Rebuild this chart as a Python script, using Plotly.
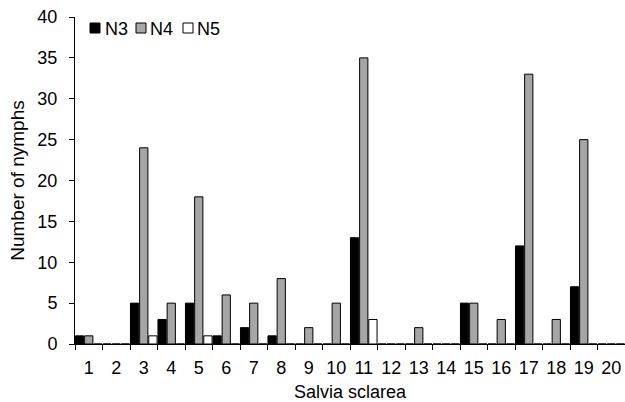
import plotly.graph_objects as go

categories = [str(i) for i in range(1, 21)]
n3 = [1, 0, 5, 3, 5, 1, 2, 1, 0, 0, 13, 0, 0, 0, 5, 0, 12, 0, 7, 0]
n4 = [1, 0, 24, 5, 18, 6, 5, 8, 2, 5, 35, 0, 2, 0, 5, 3, 33, 3, 25, 0]
n5 = [0, 0, 1, 0, 1, 0, 0, 0, 0, 0, 3, 0, 0, 0, 0, 0, 0, 0, 0, 0]
series_names = ["N3", "N4", "N5"]
series_colors = ["#000000", "#a6a6a6", "#ffffff"]
y_ticks = [0, 5, 10, 15, 20, 25, 30, 35, 40]

FONT = "Liberation Sans, Arial, sans-serif"

W, H = 625, 402
ML, MR, MT, MB = 75, 0, 17, 58
PW, PH = W - ML - MR, H - MT - MB


def px_x(p):
    return (p - ML) / PW


def px_y(p):
    return (H - MB - p) / PH


fig = go.Figure()
for name, vals, col in zip(series_names, [n3, n4, n5], series_colors):
    fig.add_trace(go.Bar(
        x=categories, y=vals, name=name,
        marker=dict(color=col, line=dict(color="#000000", width=1)),
        showlegend=False,
    ))

# legend (drawn manually to match the compact swatch layout)
sw_left = [90, 136, 183]
txt_left = [104, 149, 196]
for i, (name, col) in enumerate(zip(series_names, series_colors)):
    fig.add_shape(type="rect", xref="paper", yref="paper",
                  x0=px_x(sw_left[i]), x1=px_x(sw_left[i] + 10),
                  y0=px_y(33), y1=px_y(23),
                  fillcolor=col, line=dict(color="#000000", width=1))
    fig.add_annotation(text=name, xref="paper", yref="paper",
                       x=px_x(txt_left[i]), y=px_y(28.5),
                       xanchor="left", yanchor="middle", showarrow=False,
                       font=dict(size=18, family=FONT, color="#000000"),
                       borderpad=0)

fig.update_layout(
    width=W, height=H,
    margin=dict(l=ML, r=MR, t=MT, b=MB, autoexpand=False),
    paper_bgcolor="white", plot_bgcolor="white",
    barmode="group", bargap=0.0, bargroupgap=0.1,
    font=dict(family=FONT, size=18, color="#000000"),
    xaxis=dict(
        type="category", tickson="boundaries", range=[-0.5, 19.5],
        ticks="outside", ticklen=5, tickwidth=1, tickcolor="#000000",
        showline=True, linecolor="#000000", linewidth=1,
        showgrid=False, zeroline=False, tickangle=0,
        tickfont=dict(size=18), automargin=False, ticklabelstandoff=7,
        title=dict(text="Salvia sclarea", font=dict(size=18), standoff=9),
    ),
    yaxis=dict(
        range=[0, 40], tickvals=y_ticks, ticktext=[str(v) for v in y_ticks],
        ticks="outside", ticklen=5, tickwidth=1, tickcolor="#000000",
        showline=True, linecolor="#000000", linewidth=1,
        showgrid=False, zeroline=False, automargin=False,
        tickfont=dict(size=18), ticklabelstandoff=8,
        title=dict(text="Number of nymphs", font=dict(size=19), standoff=7),
    ),
)

fig.write_html("out.html", config={"displayModeBar": False},
               post_script="document.body.style.margin='0px';")
